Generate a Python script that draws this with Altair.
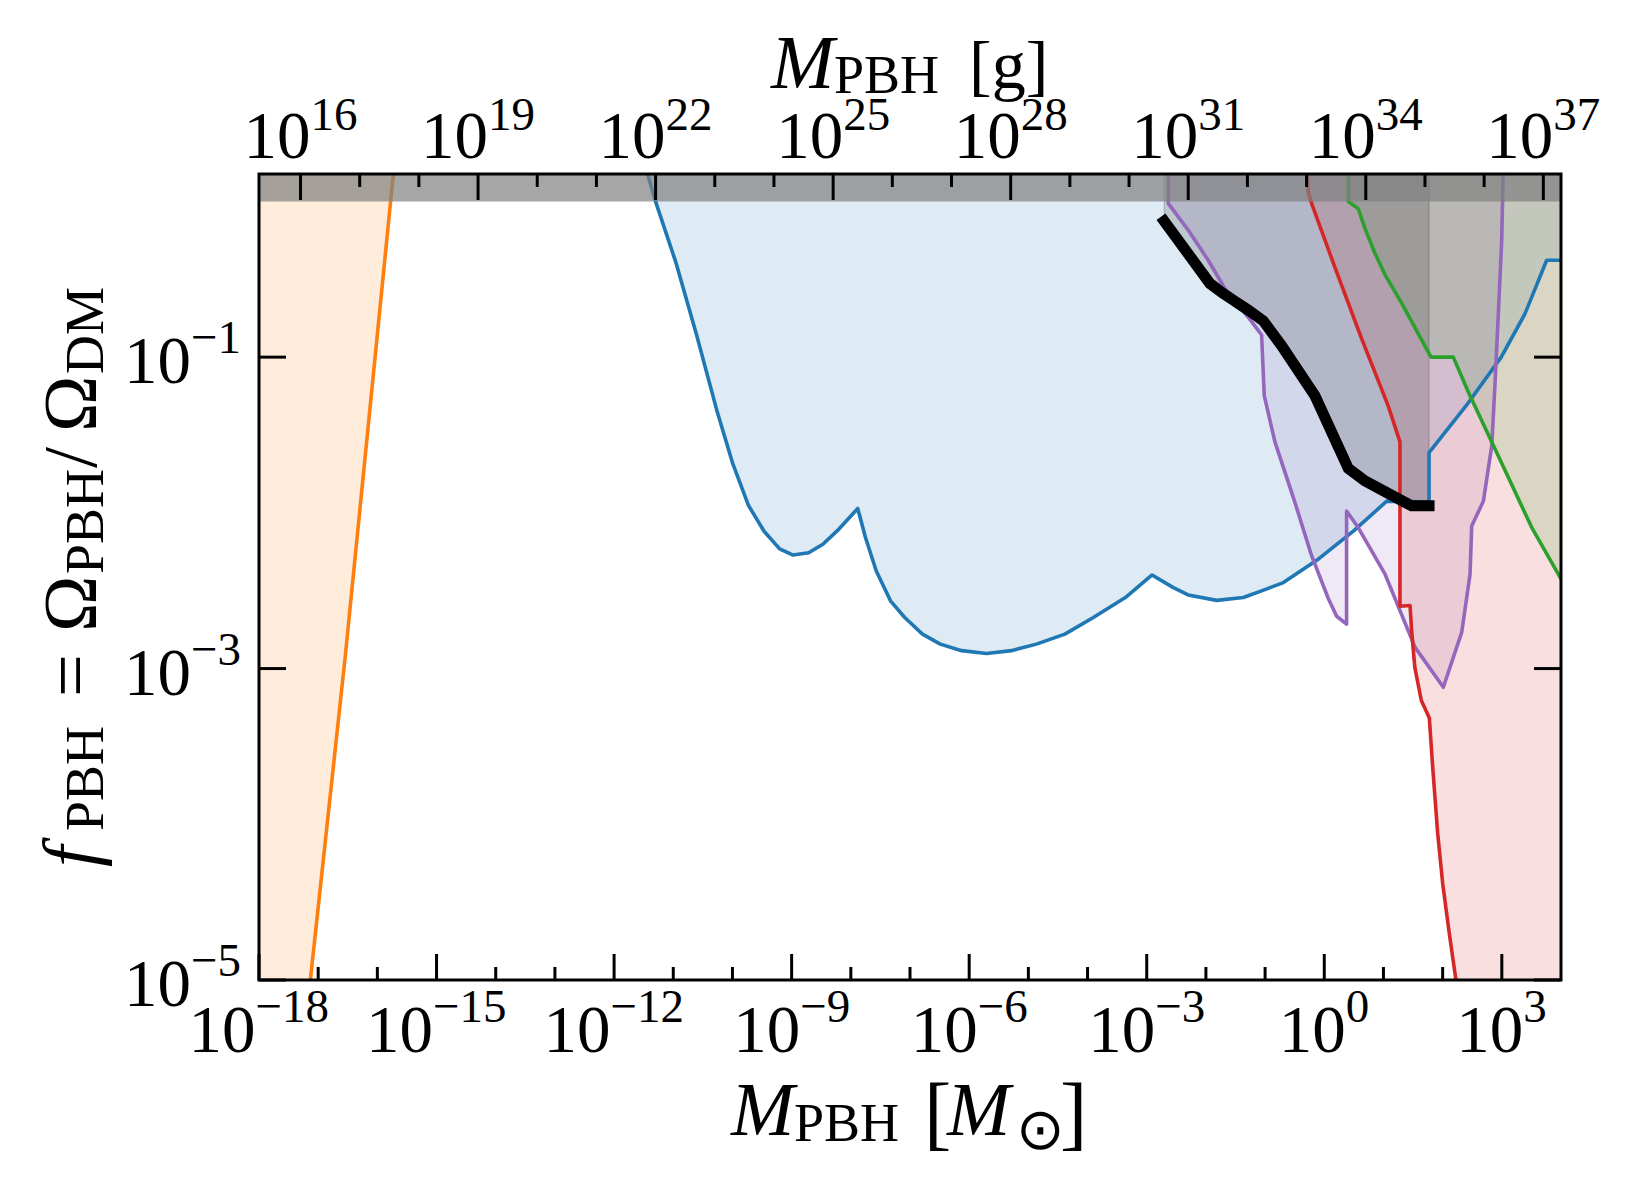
import altair as alt
import pandas as pd

MSUN_G = 1.989e33  # grams per solar mass

# Constraint curves: log10(M_PBH / M_sun) and log10(f_PBH)
orange_logm = [-18.0, -17.20, -17.132, -16.543, -15.776, -15.697]
orange_logf = [-8.1, -5.4, -5.0, -2.923, 0.0, 0.3]

blue_logm = [-11.53, -11.30, -10.959, -10.608, -10.256, -9.993, -9.730, -9.466, -9.203,
             -8.975, -8.713, -8.472, -8.232, -7.883, -7.751, -7.570, -7.330, -7.089,
             -6.789, -6.488, -6.127, -5.706, -5.285, -4.864, -4.383, -3.902, -3.361,
             -2.910, -2.55, -2.30, -1.817, -1.367, -1.003, -0.691, -0.128, 0.491, 1.055,
             1.77, 1.77, 2.434, 2.99, 3.392, 3.758, 4.0]
blue_logf = [0.3, 0.0, -0.388, -0.854, -1.353, -1.686, -1.952, -2.118, -2.231,
             -2.271, -2.256, -2.202, -2.116, -1.972, -2.160, -2.373, -2.565, -2.672,
             -2.779, -2.843, -2.885, -2.903, -2.885, -2.843, -2.779, -2.672, -2.544,
             -2.399, -2.48, -2.527, -2.562, -2.544, -2.493, -2.448, -2.305, -2.117, -1.925,
             -1.93, -1.613, -1.293, -1.0, -0.721, -0.378, -0.378]

purple_logm = [-2.637, -2.637, -2.299, -1.961, -1.679, -1.284, -1.059, -1.014, -0.834,
               -0.496, -0.214, 0.068, 0.209, 0.377, 0.377, 0.576, 1.027, 1.534, 2.012,
               2.322, 2.463, 2.491, 2.688, 2.83, 2.884, 2.941, 2.997, 3.03]
purple_logf = [0.3, -0.013, -0.184, -0.378, -0.561, -0.744, -0.858, -1.247, -1.544,
               -1.933, -2.275, -2.550, -2.664, -2.715, -1.989, -2.096, -2.394, -2.864, -3.120,
               -2.768, -2.394, -2.085, -1.925, -1.57, -1.178, -0.721, -0.264, 0.3]

red_logm = [-0.31, -0.270, -0.214, 0.180, 0.631, 1.082, 1.279, 1.279, 1.449, 1.476,
            1.53, 1.64, 1.775, 1.831, 1.916, 2.000, 2.112, 2.225, 2.30, 4.0]
red_logf = [0.3, 0.056, -0.013, -0.424, -0.881, -1.315, -1.544, -2.600, -2.595, -2.757,
            -2.992, -3.205, -3.317, -3.628, -4.057, -4.378, -4.700, -5.0, -5.2, -9.0]

green_logm = [0.406, 0.406, 0.575, 0.687, 0.856, 1.025, 1.307, 1.803, 2.180, 2.434,
              2.941, 3.504, 4.0]
green_logf = [0.3, -0.001, -0.047, -0.173, -0.333, -0.470, -0.653, -1.0, -1.0, -1.224,
              -1.635, -2.093, -2.424]

black_logm = [-2.704, -1.932, -1.735, -1.510, -1.284, -1.031, -0.721, -0.158, 0.406,
              0.687, 1.025, 1.476, 1.77]
black_logf = [-0.127, -0.527, -0.584, -0.641, -0.698, -0.767, -0.927, -1.247, -1.715,
              -1.795, -1.864, -1.955, -1.955]

# Axis ticks (exponents)
x_tick_exps = list(range(-18, 4))           # M_sun, every decade
x_label_exps = list(range(-18, 4, 3))
g_tick_exps = list(range(16, 38))           # grams, every decade
g_label_exps = list(range(16, 38, 3))
y_label_exps = [-1, -3, -5]
band_lo, band_hi = 1.0, 1.5                 # f_PBH > 1 excluded band

# ---------------------------------------------------------------- layout
W, H = 1302, 806
SERIF = "Liberation Serif"
BASE_FS, EXP_FS = 67, 47
TITLE_FS, SUB_FS = 76, 54
MAJOR, MINOR = 26, 13

xs = alt.Scale(type="log", domain=[1e-18, 1e4], nice=False)
ys = alt.Scale(type="log", domain=[1e-5, band_hi], nice=False)
X = lambda: alt.X("m:Q", scale=xs, axis=None)
Y = lambda: alt.Y("f:Q", scale=ys, axis=None)


def curve(logm, logf):
    return pd.DataFrame({"i": range(len(logm)),
                         "m": [10.0 ** v for v in logm],
                         "f": [10.0 ** v for v in logf],
                         "ceil": 10.0})


curves = [
    ("#ff7f0e", curve(orange_logm, orange_logf), 3.6),
    ("#1f77b4", curve(blue_logm, blue_logf), 3.6),
    ("#9467bd", curve(purple_logm, purple_logf), 3.6),
    ("#d62728", curve(red_logm, red_logf), 3.6),
    ("#2ca02c", curve(green_logm, green_logf), 3.6),
    ("#000000", curve(black_logm, black_logf), 11),
]

layers = []
# excluded regions: shaded from each bound up to the top
for color, df, _ in curves:
    layers.append(
        alt.Chart(df).mark_area(clip=True, color=color, fillOpacity=0.15,
                                stroke=color, strokeOpacity=0.15, strokeWidth=1.5)
        .encode(x=X(), y=Y(), y2="ceil:Q")
    )
# bound curves
for color, df, lw in curves:
    layers.append(
        alt.Chart(df).mark_line(clip=True, color=color, strokeWidth=lw,
                                strokeJoin="round" if lw < 5 else "miter",
                                strokeCap="butt" if lw < 5 else "square")
        .encode(x=X(), y=Y(), order=alt.Order("i:Q"))
    )

# f_PBH > 1 band
band = pd.DataFrame({"lo": [band_lo], "hi": [band_hi]})
layers.append(
    alt.Chart(band).mark_rect(color="#808080", opacity=0.7)
    .encode(x=alt.value(0), x2=alt.value(W),
            y=alt.Y("lo:Q", scale=ys, axis=None), y2="hi:Q")
)


def xrule(values, length, top):
    df = pd.DataFrame({"m": values})
    y0, y1 = (0, length) if top else (H, H - length)
    return alt.Chart(df).mark_rule(color="black", strokeWidth=3).encode(
        x=X(), y=alt.value(y0), y2=alt.value(y1))


bottom_major = [10.0 ** e for e in x_label_exps]
bottom_minor = [10.0 ** e for e in x_tick_exps if e not in x_label_exps]
top_major = [10.0 ** e / MSUN_G for e in g_label_exps]
top_minor = [10.0 ** e / MSUN_G for e in g_tick_exps if e not in g_label_exps]
layers += [xrule(bottom_major, MAJOR, False), xrule(bottom_minor, MINOR, False),
           xrule(top_major, MAJOR, True), xrule(top_minor, MINOR, True)]

ydf = pd.DataFrame({"f": [10.0 ** e for e in y_label_exps],
                    "e": [str(e).replace("-", "\u2212") for e in y_label_exps]})
layers += [
    alt.Chart(ydf).mark_rule(color="black", strokeWidth=3).encode(
        y=Y(), x=alt.value(0), x2=alt.value(27)),
    alt.Chart(ydf).mark_rule(color="black", strokeWidth=3).encode(
        y=Y(), x=alt.value(W), x2=alt.value(W - 27)),
]

# frame
layers.append(
    alt.Chart(band).mark_rect(fillOpacity=0, stroke="black", strokeWidth=3)
    .encode(x=alt.value(0), x2=alt.value(W), y=alt.value(0), y2=alt.value(H))
)


def exp_text(e):
    return str(e).replace("-", "\u2212")


def exp_width(s):
    return sum(0.564 if c == "\u2212" else 0.5 for c in s) * EXP_FS


def x_labels(exps, to_msun, y_base, y_exp):
    out = []
    df = pd.DataFrame({"m": [to_msun(e) for e in exps],
                       "e": [exp_text(e) for e in exps]})
    df["w"] = [round(exp_width(s)) for s in df["e"]]
    for w, g in df.groupby("w"):
        shift = (BASE_FS - w) / 2  # centre "10" + exponent on the tick
        out.append(alt.Chart(g).mark_text(
            text="10", align="right", baseline="alphabetic", font=SERIF,
            fontSize=BASE_FS, dx=shift, color="black").encode(x=X(), y=alt.value(y_base)))
        out.append(alt.Chart(g).mark_text(
            align="left", baseline="alphabetic", font=SERIF,
            fontSize=EXP_FS, dx=shift, color="black").encode(
                x=X(), y=alt.value(y_exp), text="e:N"))
    return out


layers += x_labels(x_label_exps, lambda e: 10.0 ** e, H + 72, H + 42)
layers += x_labels(g_label_exps, lambda e: 10.0 ** e / MSUN_G, -16, -44)

ylab_x = -18 - round(exp_width(exp_text(-1)))
layers += [
    alt.Chart(ydf).mark_text(text="10", align="right", baseline="alphabetic",
                             font=SERIF, fontSize=BASE_FS, dy=26, color="black")
    .encode(y=Y(), x=alt.value(ylab_x)),
    alt.Chart(ydf).mark_text(align="left", baseline="alphabetic", font=SERIF,
                             fontSize=EXP_FS, dy=-4, color="black")
    .encode(y=Y(), x=alt.value(ylab_x), text="e:N"),
]

one = pd.DataFrame({"k": [0]})


def piece(text, x, y, size, italic=False, angle=0):
    return alt.Chart(one).mark_text(
        text=text, align="left", baseline="alphabetic", font=SERIF, fontSize=size,
        fontStyle="italic" if italic else "normal", angle=angle, color="black"
    ).encode(x=alt.value(x), y=alt.value(y))


# top title: M_PBH [g]
layers += [piece("M", 512, -86, TITLE_FS, True),
           piece("PBH", 575, -81, SUB_FS),
           piece("[g]", 710, -86, 68)]
# bottom title: M_PBH [M_sun]
layers += [piece("M", 472, 961, TITLE_FS, True),
           piece("PBH", 535, 967, SUB_FS),
           piece("[", 665, 966, 82),
           piece("M", 688, 961, TITLE_FS, True),
           piece("\u2299", 757, 975, 58),
           piece("]", 801, 966, 82)]
# left title: f_PBH = Omega_PBH / Omega_DM (reading upwards)
layers += [piece("f", -163, 693, TITLE_FS, True, 270),
           piece("PBH", -156, 657, SUB_FS, False, 270),
           piece("=", -163, 523, TITLE_FS, False, 270),
           piece("\u03a9", -163, 458, TITLE_FS, False, 270),
           piece("PBH", -156, 400, SUB_FS, False, 270),
           piece("/", -163, 294, TITLE_FS, False, 270),
           piece("\u03a9", -163, 258, TITLE_FS, False, 270),
           piece("DM", -156, 200, SUB_FS, False, 270)]

chart = alt.layer(*layers).properties(
    width=W, height=H,
    autosize=alt.AutoSizeParams(type="none"),
    padding={"left": 259, "top": 174, "right": 69, "bottom": 203},
    background="white",
).configure_view(strokeWidth=0)

chart.save("out.html", embed_options={"renderer": "svg", "actions": False})
